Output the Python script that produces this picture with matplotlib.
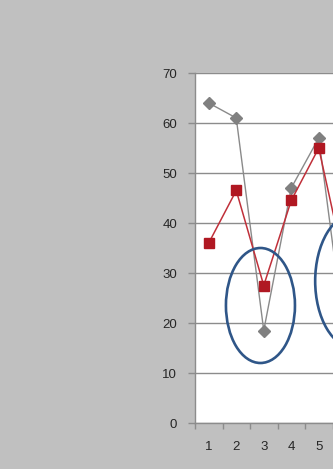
import matplotlib
matplotlib.use("Agg")
import matplotlib.pyplot as plt
from matplotlib.patches import Ellipse

categories = [1, 2, 3, 4, 5, 6]
series_grey = [64, 61, 18.5, 47, 57, 15]
series_red = [36, 46.5, 27.5, 44.5, 55, 30]
y_ticks = [0, 10, 20, 30, 40, 50, 60, 70]
x_labels = ["1", "2", "3", "4", "5"]
ellipse_centers = [(2.88, 23.5), (6.32, 28.4)]
ellipse_sizes = [(2.51, 23), (2.9, 27)]

plt.rcParams['font.family'] = ['Liberation Sans', 'DejaVu Sans']

fig = plt.figure(figsize=(3.33, 4.69), dpi=100, facecolor='#C0C0C0')
W, H = 333, 469
left_px, top_px, bottom_px = 195, 73, 423
step = 27.5
ncat = 8
ax = fig.add_axes([left_px / W, (H - bottom_px) / H, ncat * step / W, (bottom_px - top_px) / H])
ax.set_facecolor('white')

ax.plot(categories, series_grey, color='#8A8A8A', lw=1.0, marker='D', markersize=5.8,
        markerfacecolor='#808080', markeredgecolor='#808080', zorder=3)
ax.plot(categories, series_red, color='#C0303A', lw=1.1, marker='s', markersize=6.8,
        markerfacecolor='#B01822', markeredgecolor='#B01822', zorder=4)

for (cx, cy), (w, h) in zip(ellipse_centers, ellipse_sizes):
    ax.add_patch(Ellipse((cx, cy), w, h, fill=False, edgecolor='#2F5688', lw=1.9, zorder=5))

ax.set_xlim(0.5, ncat + 0.5)
ax.set_ylim(0, 70)
ax.set_yticks(y_ticks)
ax.set_yticklabels([str(v) for v in y_ticks])
ax.yaxis.grid(True, color='#8C8C8C', lw=1.0)
ax.set_axisbelow(True)

ax.set_xticks(categories[:len(x_labels)])
ax.set_xticklabels(x_labels)
ax.set_xticks([k + 0.5 for k in range(0, ncat + 1)], minor=True)
ax.tick_params(axis='x', which='major', length=0, pad=13, labelsize=9.5, labelcolor='#262626')
ax.tick_params(axis='x', which='minor', length=4, color='#8C8C8C', width=1)
ax.tick_params(axis='y', length=5, color='#8C8C8C', width=1, pad=8, labelsize=9.5, labelcolor='#262626')

for s in ['top', 'right']:
    ax.spines[s].set_visible(False)
for s in ['left', 'bottom']:
    ax.spines[s].set_color('#8C8C8C')
    ax.spines[s].set_linewidth(1)

fig.savefig('out.png', dpi=100, facecolor=fig.get_facecolor())
